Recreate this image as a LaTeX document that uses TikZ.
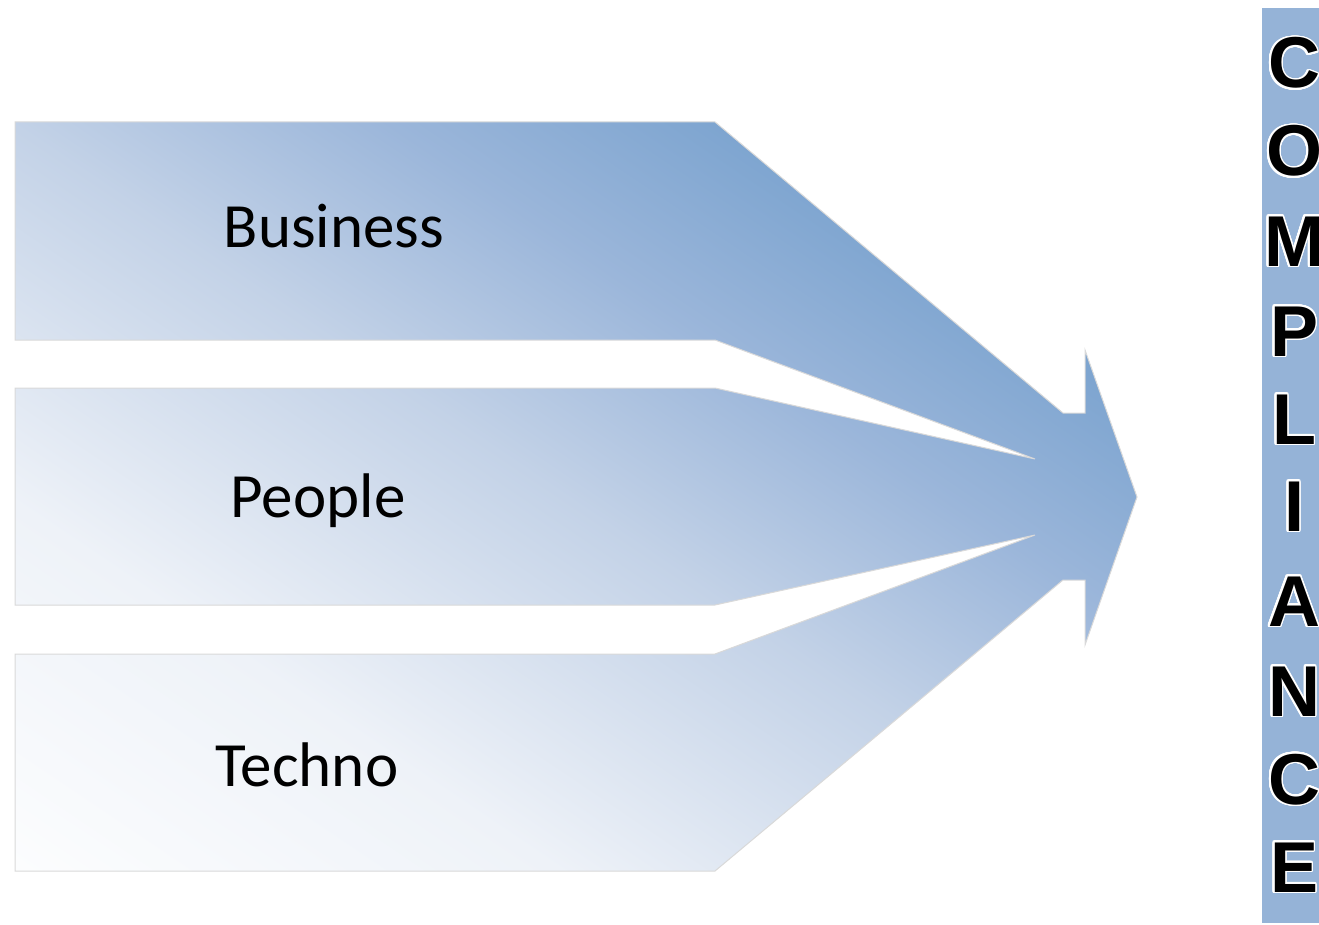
\documentclass[tikz,border=0pt]{standalone}
\usepackage{fontspec}
\setmainfont{Carlito}
\newfontfamily\arialfont{Liberation Sans}
\usepackage{contour}
\contourlength{1.6pt}
\contournumber{40}
\definecolor{c0}{HTML}{FCFDFE}
\definecolor{c1}{HTML}{EEF2F8}
\definecolor{c2}{HTML}{C3D2E7}
\definecolor{c3}{HTML}{9BB6DA}
\definecolor{c4}{HTML}{7EA5D0}
\definecolor{barc}{HTML}{95B3D7}
\definecolor{edgec}{HTML}{D9D9D9}
\pgfdeclareverticalshading{cmpshade}{100bp}{color(0bp)=(c0); color(27.71bp)=(c0); color(38.56bp)=(c1); color(49.76bp)=(c2); color(57.35bp)=(c3); color(63.86bp)=(c4); color(100bp)=(c4)}
\begin{document}
\begin{tikzpicture}[x=1pt,y=-1pt,
  lbl/.style={font=\fontsize{63}{75}\selectfont, text=black, inner sep=0pt, anchor=base},
  ltr/.style={font=\arialfont\bfseries\fontsize{72}{80}\selectfont, inner sep=0pt, anchor=base}]
\useasboundingbox (0,0) rectangle (1319,925);
% converging arrows
\begin{scope}
\path[clip] (15,122) -- (715,122) -- (1063,413) -- (1085,413) -- (1085,350) -- (1137,497) -- (1085,645) -- (1085,580) -- (1063,580) -- (715,871) -- (15,871) -- (15,654) -- (715,654) -- (1035,535) -- (715,605) -- (15,605) -- (15,388) -- (715,388) -- (1035,459) -- (715,340) -- (15,340) -- cycle;
\shade[shading=cmpshade, shading angle=-34] (-124,-203.5) rectangle (1276,1196.5);
\end{scope}
\draw[edgec, line width=1pt, line join=miter] (15,122) -- (715,122) -- (1063,413) -- (1085,413) -- (1085,350) -- (1137,497) -- (1085,645) -- (1085,580) -- (1063,580) -- (715,871) -- (15,871) -- (15,654) -- (715,654) -- (1035,535) -- (715,605) -- (15,605) -- (15,388) -- (715,388) -- (1035,459) -- (715,340) -- (15,340) -- cycle;
\node[lbl] (business) at (334,248) {Business};
\node[lbl] (people) at (318,517) {People};
\node[lbl] (techno) at (307,786) {Techno};
% compliance bar
\fill[barc] (1262,8) rectangle (1330,923);
\begin{scope}
\clip (0,0) rectangle (1319,925);
\node[ltr] (c1) at (1294,88) {\contour{white}{C}};
\node[ltr] (o1) at (1294,176) {\contour{white}{O}};
\node[ltr] (m1) at (1294,266) {\contour{white}{M}};
\node[ltr] (p1) at (1294,356) {\contour{white}{P}};
\node[ltr] (l1) at (1294,444) {\contour{white}{L}};
\node[ltr] (i1) at (1294,531) {\contour{white}{I}};
\node[ltr] (a1) at (1294,626) {\contour{white}{A}};
\node[ltr] (n1) at (1294,716) {\contour{white}{N}};
\node[ltr] (c2) at (1294,804) {\contour{white}{C}};
\node[ltr] (e1) at (1294,892) {\contour{white}{E}};
\end{scope}
\end{tikzpicture}
\end{document}
